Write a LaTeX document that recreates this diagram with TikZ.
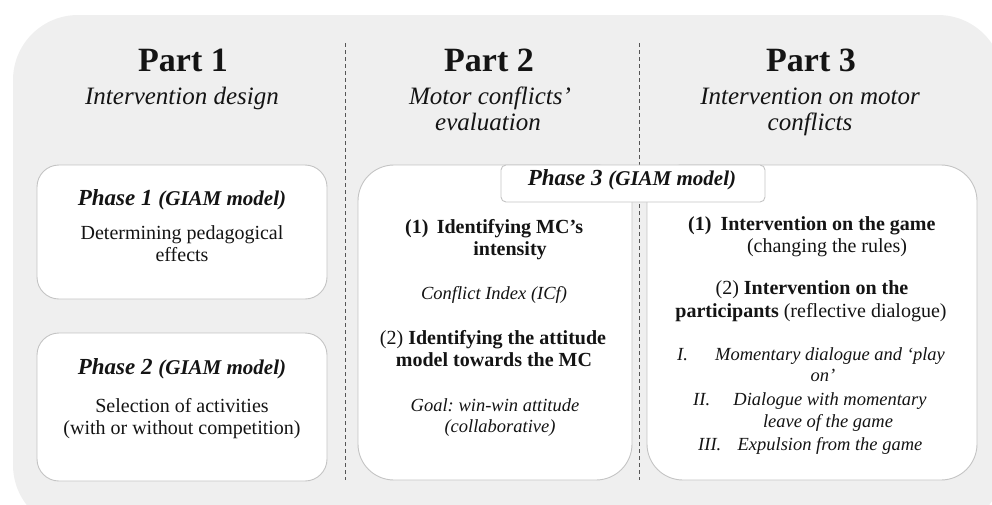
\documentclass[tikz,border=0pt]{standalone}
\usepackage{fontspec}
\setmainfont{Liberation Serif}
\frenchspacing
\definecolor{bggray}{HTML}{EFEFEF}
\definecolor{boxline}{HTML}{C4C4C4}
\definecolor{dashcol}{HTML}{555555}
\definecolor{ink}{HTML}{141414}
\tikzset{
  titletxt/.style={font=\fontsize{34}{40}\selectfont\bfseries, text=ink, anchor=base, inner sep=0pt},
  subtxt/.style={font=\fontsize{25}{28}\selectfont\itshape, text=ink, anchor=mid, inner sep=0pt},
  bodytxt/.style={font=\fontsize{20}{22}\selectfont, text=ink, anchor=mid, inner sep=0pt},
  boldtxt/.style={bodytxt, font=\fontsize{20}{22}\selectfont\bfseries},
  ittxt/.style={bodytxt, font=\fontsize{18.5}{22}\selectfont\itshape},
  phasetxt/.style={font=\fontsize{23}{26}\selectfont\bfseries\itshape, text=ink, anchor=mid, inner sep=0pt},
  whitebox/.style={draw=boxline, fill=white, line width=0.9pt},
  divider/.style={draw=dashcol, line width=0.9pt, dash pattern=on 4pt off 3pt},
}
\newcommand{\giam}{{\fontsize{21}{24}\selectfont(GIAM model)}}
\begin{document}
\begin{tikzpicture}[x=1pt,y=-1pt]
\useasboundingbox (0,0) rectangle (992,504);
\begin{scope}
  \clip (0,0) rectangle (992,504);
  \fill[bggray, rounded corners=65pt] (13,15) rectangle (1003,530);
\end{scope}
% dividers
\coordinate (d1t) at (345,43); \coordinate (d1b) at (345,480);
\coordinate (d2t) at (639,43); \coordinate (d2b) at (639,480);
\draw[divider] (d1t) -- (d1b);
\draw[divider] (d2t) -- (d2b);
% titles
\node[titletxt] (p1) at (183,71) {Part 1};
\node[titletxt] (p2) at (489,71) {Part 2};
\node[titletxt] (p3) at (811,71) {Part 3};
\node[subtxt] (s1) at (182,102) {Intervention design};
\node[subtxt] (s2a) at (490,102) {Motor conflicts’};
\node[subtxt] (s2b) at (488,128) {evaluation};
\node[subtxt] (s3a) at (810,102) {Intervention on motor};
\node[subtxt] (s3b) at (810,128) {conflicts};
% boxes
\draw[whitebox, rounded corners=22pt] (37,165) rectangle (327,299);
\draw[whitebox, rounded corners=22pt] (37,333) rectangle (327,481);
\draw[whitebox, rounded corners=36pt] (358,165) rectangle (632,480);
\draw[whitebox, rounded corners=36pt] (647,165) rectangle (977,480);
\draw[whitebox, rounded corners=5pt] (501,165) rectangle (765,202);
% phase 1
\node[phasetxt] (ph1) at (182,203) {Phase 1 \giam};
\node[bodytxt] (ph1a) at (182,237) {Determining pedagogical};
\node[bodytxt] (ph1b) at (182,259) {effects};
% phase 2
\node[phasetxt] (ph2) at (182,372) {Phase 2 \giam};
\node[bodytxt] (ph2a) at (182,410) {Selection of activities};
\node[bodytxt] (ph2b) at (182,432) {(with or without competition)};
% phase 3 label
\node[phasetxt] (ph3) at (632,183) {Phase 3 \giam};
% part 2 box content
\node[boldtxt, anchor=mid west] (n1) at (405,231) {(1)};
\node[boldtxt] (b1a) at (510,231) {Identifying MC’s};
\node[boldtxt] (b1b) at (510,253) {intensity};
\node[ittxt] (b1c) at (494,297) {Conflict Index (ICf)};
\node[bodytxt] (b2a) at (493,342) {(2) \textbf{Identifying the attitude}};
\node[boldtxt] (b2b) at (494,364) {model towards the MC};
\node[ittxt] (b2c) at (495,409) {Goal: win-win attitude};
\node[ittxt] (b2d) at (500,430) {(collaborative)};
% part 3 box content
\node[boldtxt, anchor=mid west] (m1) at (688,228) {(1)};
\node[boldtxt] (c1a) at (828,228) {Intervention on the game};
\node[bodytxt] (c1b) at (827,250) {(changing the rules)};
\node[bodytxt] (c2a) at (812,292) {(2) \textbf{Intervention on the}};
\node[bodytxt] (c2b) at (811,315) {\textbf{participants} (reflective dialogue)};
\node[ittxt, anchor=mid west] (r1) at (677,358) {I.};
\node[ittxt] (l1a) at (830,358) {Momentary dialogue and ‘play};
\node[ittxt] (l1b) at (823,379) {on’};
\node[ittxt, anchor=mid west] (r2) at (693,403) {II.};
\node[ittxt] (l2a) at (830,403) {Dialogue with momentary};
\node[ittxt] (l2b) at (828,425) {leave of the game};
\node[ittxt, anchor=mid west] (r3) at (698,448) {III.};
\node[ittxt] (l3a) at (830,448) {Expulsion from the game};
\end{tikzpicture}
\end{document}
